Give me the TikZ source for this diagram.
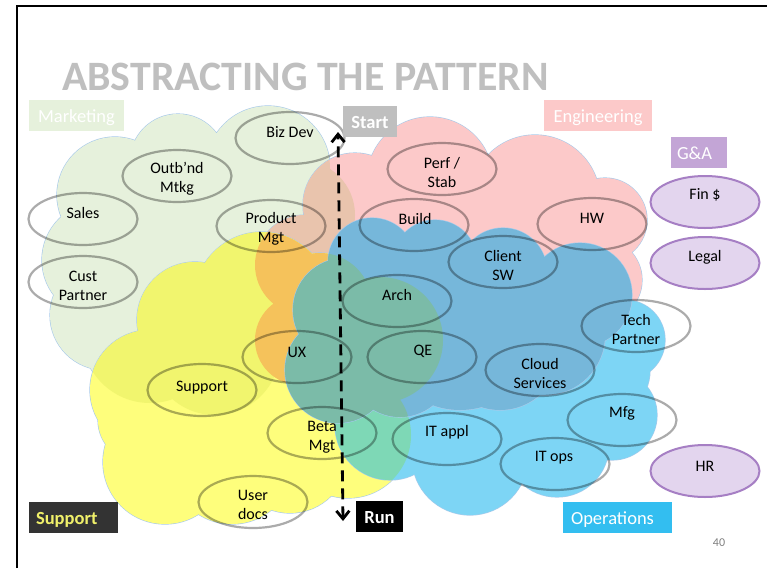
\documentclass[tikz,border=0pt]{standalone}
\usepackage{fontspec}
\setmainfont{Carlito}
\usetikzlibrary{arrows.meta,shapes.geometric}
\definecolor{cgreen}{HTML}{E6F1DC}
\definecolor{cpink}{HTML}{FCC9C9}
\definecolor{csalmon}{HTML}{E9C4AD}
\definecolor{cyellow}{HTML}{FEFE7C}
\definecolor{clemon}{HTML}{F1F56E}
\definecolor{corange}{HTML}{F5C25B}
\definecolor{ccyan}{HTML}{7DD5F5}
\definecolor{clteal}{HTML}{7ED8B6}
\definecolor{cblue}{HTML}{76B7DA}
\definecolor{cteal}{HTML}{7BBBA8}
\definecolor{cedge}{HTML}{A8CAEA}
\definecolor{opsbox}{HTML}{33BEF0}
\definecolor{gabox}{HTML}{C3A5D6}
\definecolor{gafill}{HTML}{E3D5EE}
\definecolor{gaedge}{HTML}{A67FC4}
\definecolor{titlegray}{HTML}{BFBFBF}
\definecolor{supptext}{HTML}{F0F06A}
\begin{document}
\begin{tikzpicture}[x=1pt,y=-1pt,
  cloudG/.style={insert path={(115,195) circle[radius=58pt] (100,260) circle[radius=58pt] (105,315) circle[radius=55pt] (178,162) circle[radius=48pt] (268,168) circle[radius=62pt] (300,215) circle[radius=55pt] (200,240) circle[radius=80pt] (150,335) circle[radius=68pt] (215,350) circle[radius=65pt] (255,280) circle[radius=60pt]}},
  cloudP/.style={insert path={(355,205) circle[radius=52pt] (305,265) circle[radius=50pt] (300,340) circle[radius=45pt] (430,180) circle[radius=63pt] (535,200) circle[radius=65pt] (605,220) circle[radius=42pt] (600,280) circle[radius=42pt] (480,260) circle[radius=80pt] (380,260) circle[radius=60pt]}},
  cloudY/.style={insert path={(262,300) circle[radius=68pt] (195,320) circle[radius=58pt] (150,390) circle[radius=60pt] (140,420) circle[radius=42pt] (165,462) circle[radius=62pt] (232,462) circle[radius=62pt] (290,455) circle[radius=58pt] (348,435) circle[radius=63pt] (300,370) circle[radius=70pt] (230,390) circle[radius=70pt] (380,340) circle[radius=63pt] (320,305) circle[radius=52pt]}},
  cloudO/.style={insert path={(390,425) circle[radius=55pt] (470,457) circle[radius=58pt] (557,445) circle[radius=52pt] (612,415) circle[radius=45pt] (625,340) circle[radius=40pt] (520,390) circle[radius=80pt] (600,370) circle[radius=50pt]}},
  cloudB/.style={insert path={(372,262) circle[radius=44pt] (435,262) circle[radius=42pt] (503,272) circle[radius=44pt] (580,295) circle[radius=52pt] (345,310) circle[radius=52pt] (338,370) circle[radius=53pt] (400,365) circle[radius=52pt] (460,330) circle[radius=80pt] (545,335) circle[radius=60pt] (500,350) circle[radius=60pt]}},
  edge/.style={draw=cedge, line width=1.2pt},
  oval/.style={ellipse, draw=black, draw opacity=0.33, line width=2.2pt, minimum width=109pt, minimum height=52pt, inner sep=0pt},
  gaoval/.style={ellipse, draw=gaedge, fill=gafill, line width=2pt, minimum width=109pt, minimum height=52pt, inner sep=0pt},
  txt/.style={font=\fontsize{16}{19}\selectfont, align=center, inner sep=0pt, text=black},
  tag/.style={minimum height=31pt, inner sep=0pt, text height=13pt, text depth=0pt, font=\fontsize{18.5}{20}\selectfont, text=white},
]
\useasboundingbox (0,0) rectangle (767,568);
\fill[white] (0,0) rectangle (767,568);

% clouds
\path[edge, cloudG];
\fill[cgreen, cloudG];
\path[edge, cloudP];
\fill[cpink, cloudP];
\begin{scope}\clip[cloudP]; \fill[csalmon, cloudG];\end{scope}
\path[edge, cloudY];
\fill[cyellow, cloudY];
\begin{scope}\clip[cloudY]; \fill[clemon, cloudG];\end{scope}
\begin{scope}\clip[cloudY]; \fill[corange, cloudP];\end{scope}
\path[edge, cloudO];
\fill[ccyan, cloudO];
\begin{scope}\clip[cloudO]; \fill[clteal, cloudY];\end{scope}
\path[edge, cloudB];
\fill[cblue, cloudB];
\begin{scope}\clip[cloudB]; \fill[cteal, cloudY];\end{scope}

% title
\node[anchor=base west, inner sep=0pt, text=titlegray, font=\bfseries\fontsize{41.8}{45}\selectfont] (title) at (62,90) {ABSTRACTING THE PATTERN};

% ellipses
\node[oval] (bizdev) at (290,138) {};
\node[txt] (bizdevT) at (290,132) {Biz Dev};
\node[oval] (outbnd) at (177,176) {};
\node[txt] (outbndT) at (177,179) {Outb’nd\\Mtkg};
\node[oval] (sales) at (83,219) {};
\node[txt] (salesT) at (83,213) {Sales};
\node[oval] (cust) at (83,282) {};
\node[txt] (custT) at (83,286) {Cust\\Partner};
\node[oval] (prod) at (271,226) {};
\node[txt] (prodT) at (271,229) {Product\\Mgt};
\node[oval] (ux) at (297,357) {};
\node[txt] (uxT) at (297,352) {UX};
\node[oval] (supp) at (202,390) {};
\node[txt] (suppT) at (202,388) {Support};
\node[oval] (beta) at (322,433) {};
\node[txt] (betaT) at (322,437) {Beta\\Mgt};
\node[oval] (docs) at (253,502) {};
\node[txt] (docsT) at (253,505) {User\\docs};
\node[oval] (perf) at (442,169) {};
\node[txt] (perfT) at (442,172) {Perf /\\Stab};
\node[oval] (build) at (414,225) {};
\node[txt] (buildT) at (415,219) {Build};
\node[oval] (hw) at (592,224) {};
\node[txt] (hwT) at (592,218) {HW};
\node[oval] (client) at (503,262) {};
\node[txt] (clientT) at (503,265) {Client\\SW};
\node[oval] (arch) at (397,301) {};
\node[txt] (archT) at (397,295) {Arch};
\node[oval] (qe) at (422,357) {};
\node[txt] (qeT) at (423,351) {QE};
\node[oval] (cloud) at (540,370) {};
\node[txt] (cloudT) at (540,373) {Cloud\\Services};
\node[oval] (tech) at (636,326) {};
\node[txt] (techT) at (636,329) {Tech\\Partner};
\node[oval] (itappl) at (447,439) {};
\node[txt] (itapplT) at (447,432) {IT appl};
\node[oval] (itops) at (555,464) {};
\node[txt] (itopsT) at (554,458) {IT ops};
\node[oval] (mfg) at (622,420) {};
\node[txt] (mfgT) at (622,413) {Mfg};
\node[gaoval] (fin) at (705,202) {};
\node[txt] (finT) at (705,195) {Fin \$};
\node[gaoval] (legal) at (705,263) {};
\node[txt] (legalT) at (705,257) {Legal};
\node[gaoval] (hr) at (705,471) {};
\node[txt] (hrT) at (705,466) {HR};

% start-run arrow
\coordinate (arrTop) at (338,132);
\coordinate (arrBot) at (343,521);
\draw[line width=2.8pt, dash pattern=on 11pt off 7pt,
  {Straight Barb[length=8pt,width=13pt]}-{Straight Barb[length=8pt,width=13pt]}] (arrBot) -- (arrTop);

% tags
\node[tag, fill=cgreen, minimum width=95pt] (mkt) at (76.5,115.5) {Marketing};
\node[tag, fill=cpink, minimum width=108pt] (eng) at (598,115.5) {Engineering};
\node[tag, fill=gabox, minimum width=56pt, text width=44pt, align=left] (ga) at (699,152.5) {G\&A};
\node[tag, fill=titlegray, minimum width=54pt, font=\bfseries\fontsize{18.5}{20}\selectfont] (start) at (370,121.5) {Start};
\node[tag, fill=black!80, minimum width=89pt, text width=75pt, align=left, text=supptext, font=\bfseries\fontsize{18.5}{20}\selectfont] (supptag) at (73.5,517.5) {Support};
\node[tag, fill=black, minimum width=47pt, font=\bfseries\fontsize{18.5}{20}\selectfont] (run) at (379.5,516.5) {Run};
\node[tag, fill=opsbox, minimum width=109pt, text width=93pt, align=left] (ops) at (617.5,517.5) {Operations};
\node[inner sep=0pt, text=black!50, font=\fontsize{12}{14}\selectfont] (page) at (719,543) {40};

% frame
\draw[line width=2pt] (17,568) -- (17,6) -- (767,6);
\end{tikzpicture}
\end{document}
